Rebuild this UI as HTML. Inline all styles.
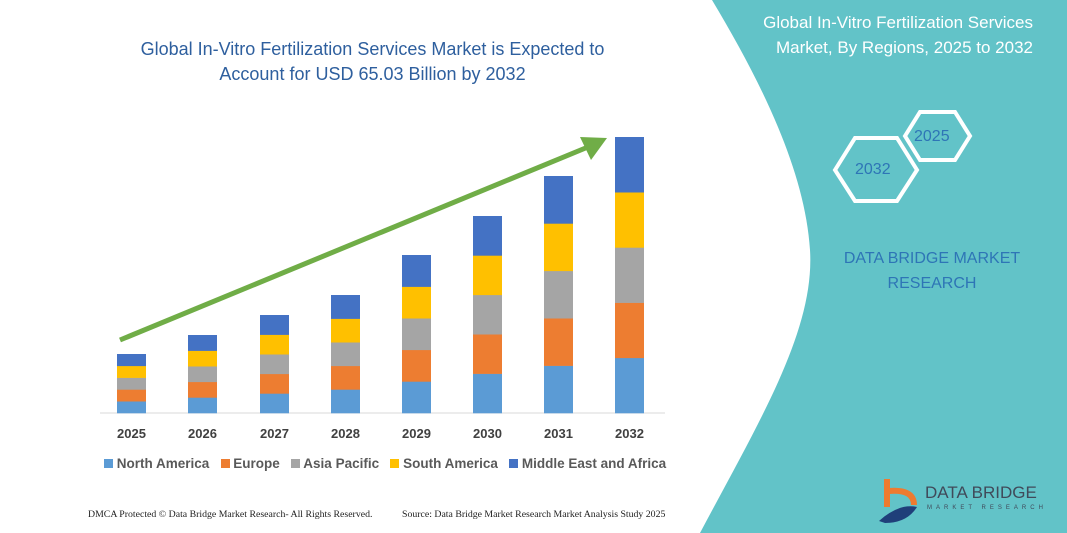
<!DOCTYPE html>
<html><head><meta charset="utf-8"><style>
body{margin:0;width:1067px;height:533px;overflow:hidden;background:#fff;font-family:"Liberation Sans",sans-serif;position:relative}
.t{position:absolute;white-space:nowrap}
</style></head><body>
<svg width="1067" height="533" style="position:absolute;left:0;top:0">
<path d="M712,0 L1067,0 L1067,533 L700,533 C760,420 815,330 810,250 C805,170 760,80 712,0Z" fill="#62c3c8"/>
<line x1="100" y1="413" x2="665" y2="413" stroke="#d9d9d9" stroke-width="1"/>
<g id="bars"></g>
<line x1="120" y1="340" x2="588" y2="147" stroke="#70ad47" stroke-width="5"/>
<polygon points="607,138 580,137 591,160" fill="#70ad47"/>
<polygon points="835,170 855,138 897,138 917,170 897,201 855,201" fill="none" stroke="#fff" stroke-width="4"/>
<polygon points="905,136 920,112 955,112 970,136 955,160 920,160" fill="none" stroke="#fff" stroke-width="4"/>
</svg>
<div class="t" style="left:100px;top:37px;width:545px;text-align:center;color:#2e5f9e;font-size:18px;line-height:25px;white-space:normal">Global In-Vitro Fertilization Services Market is Expected to<br>Account for USD 65.03 Billion by 2032</div>
<div class="t" style="right:34px;top:10px;text-align:right;color:#fff;font-size:17px;line-height:25px">Global In-Vitro Fertilization Services<br>Market, By Regions, 2025 to 2032</div>
<div class="t" style="left:855px;top:161px;color:#2e75b6;font-size:16px">2032</div>
<div class="t" style="left:914px;top:128px;color:#2e75b6;font-size:16px">2025</div>
<div class="t" style="left:832px;top:246px;width:200px;text-align:center;color:#2e75b6;font-size:16px;line-height:25px">DATA BRIDGE MARKET<br>RESEARCH</div>
<div class="t" style="left:925px;top:483px;color:#404a5a;font-size:17px">DATA BRIDGE</div>
<div class="t" style="left:927px;top:505px;color:#404a5a;font-size:6px;letter-spacing:4px">MARKET RESEARCH</div>
<svg width="45" height="48" style="position:absolute;left:877px;top:477px"><path d="M10,2 v28" stroke="#ee7b30" stroke-width="6"/><path d="M12,14 q25,-2 25,14" stroke="#ee7b30" stroke-width="6" fill="none"/><path d="M2,44 q20,-18 38,-14 q-10,16 -32,16z" fill="#1f3f7a"/></svg>
<div id="yrs"></div>
<div class="t" style="left:104px;top:456px;font-size:13.5px;font-weight:bold;color:#595959">
<span style="display:inline-block;width:9px;height:9px;background:#5b9bd5"></span> North America&nbsp;&nbsp; <span style="display:inline-block;width:9px;height:9px;background:#ed7d31"></span> Europe&nbsp;&nbsp; <span style="display:inline-block;width:9px;height:9px;background:#a5a5a5"></span> Asia Pacific&nbsp;&nbsp; <span style="display:inline-block;width:9px;height:9px;background:#ffc000"></span> South America&nbsp;&nbsp; <span style="display:inline-block;width:9px;height:9px;background:#4472c4"></span> Middle East and Africa</div>
<div class="t" style="left:88px;top:509px;font-family:'Liberation Serif',serif;font-size:9.8px;color:#222">DMCA Protected © Data Bridge Market Research- All Rights Reserved.</div>
<div class="t" style="left:402px;top:509px;font-family:'Liberation Serif',serif;font-size:9.8px;color:#222">Source: Data Bridge Market Research Market Analysis Study 2025</div>
<script>
var xs=[117,188,260,331,402,473,544,615],tops=[354,335,315,295,255,216,176,137],c=["#5b9bd5","#ed7d31","#a5a5a5","#ffc000","#4472c4"],s="",y="";
for(var i=0;i<8;i++){var h=(413-tops[i])/5;for(var k=0;k<5;k++){s+='<rect x="'+xs[i]+'" y="'+(413-h*(k+1))+'" width="29" height="'+(h+0.3)+'" fill="'+c[k]+'"/>';}
y+='<div class="t" style="left:'+(xs[i]-6)+'px;top:426px;width:41px;text-align:center;font-size:13px;font-weight:bold;color:#404040">'+(2025+i)+'</div>';}
document.getElementById("bars").innerHTML=s;document.getElementById("yrs").innerHTML=y;
</script>
</body></html>
